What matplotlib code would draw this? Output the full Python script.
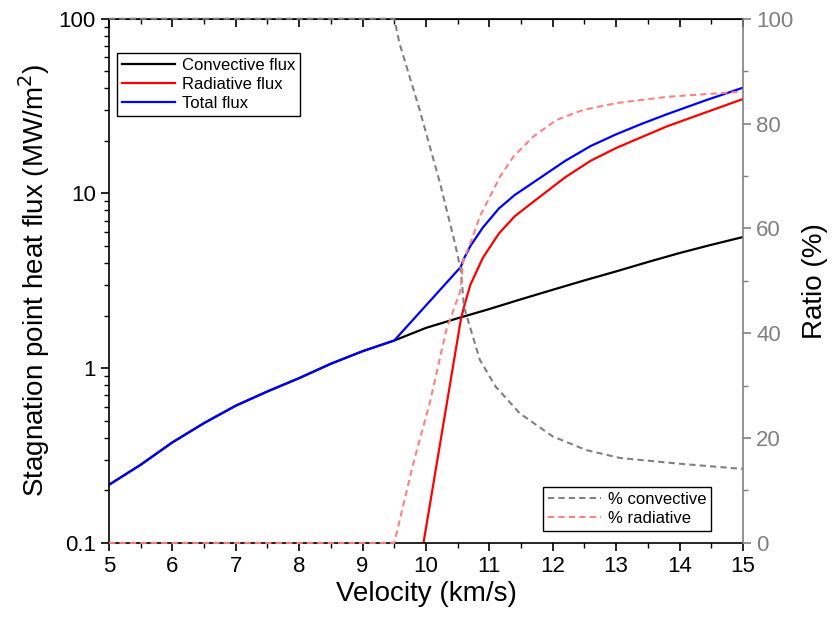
import matplotlib
matplotlib.use("Agg")
import matplotlib.pyplot as plt
from matplotlib.ticker import FixedLocator, MultipleLocator, NullFormatter
import numpy as np

plt.rcParams['font.family'] = ['Liberation Sans', 'DejaVu Sans']

# heat flux (MW/m^2)
v_conv = [5, 5.5, 6, 6.5, 7, 7.5, 8, 8.5, 9, 9.5, 10, 10.5, 11, 11.5, 12,
          12.5, 13, 13.5, 14, 14.5, 15]
q_conv = [0.215, 0.28, 0.376, 0.485, 0.61, 0.736, 0.877, 1.06, 1.25, 1.44,
          1.70, 1.93, 2.18, 2.48, 2.81, 3.18, 3.58, 4.05, 4.56, 5.08, 5.63]

v_rad = [9.5, 10.55, 10.6, 10.7, 10.9, 11.15, 11.4, 11.7, 12.2, 12.6, 13.0,
         13.4, 13.8, 14.4, 15]
q_rad = [0.01, 1.9, 2.25, 3.0, 4.3, 5.9, 7.4, 9.0, 12.4, 15.4, 18.2,
         21.0, 24.2, 29.0, 34.7]

v_tot = [5, 5.5, 6, 6.5, 7, 7.5, 8, 8.5, 9, 9.5, 10.55, 10.6, 10.7, 10.9,
         11.15, 11.4, 11.7, 12.2, 12.6, 13.0, 13.4, 13.8, 14.4, 15]
q_tot = [0.215, 0.28, 0.376, 0.485, 0.61, 0.736, 0.877, 1.06, 1.25, 1.44,
         3.8, 4.25, 5.0, 6.4, 8.2, 9.8, 11.6, 15.4, 18.7, 21.8, 25.0, 28.4,
         34.0, 40.3]

# ratios (%)
v_pconv = [5, 9.5, 9.58, 9.9, 10.22, 10.46, 10.55, 10.6, 10.85, 11.1, 11.48,
           12.0, 12.53, 13.06, 14.0, 15]
p_conv = [100, 100, 95.4, 82.6, 68.7, 57, 52, 45, 34.9, 29.8, 24.7,
          20.3, 17.7, 16.2, 15.1, 14.1]

v_prad = [5, 9.5, 9.8, 10.06, 10.32, 10.54, 10.59, 10.72, 10.85, 11.01,
          11.17, 11.38, 11.69, 12.06, 12.48, 13.0, 13.8, 15]
p_rad = [0, 0, 15.2, 26.7, 40.6, 48, 54, 57.8, 62.3, 66.1,
         69.9, 73.7, 77.5, 80.7, 82.6, 83.9, 85.1, 86.1]

fig = plt.figure(figsize=(8.32, 6.24), dpi=100)
ax = fig.add_axes([0.131, 0.130, 0.762, 0.840])
ax2 = ax.twinx()

l1, = ax.plot(v_conv, q_conv, color='black', lw=1.6, label='Convective flux')
l2, = ax.plot(v_rad, q_rad, color='#ff0000', lw=1.6, label='Radiative flux')
l3, = ax.plot(v_tot, q_tot, color='#0000ff', lw=1.6, label='Total flux')

d1, = ax2.plot(v_pconv, p_conv, color='#808080', lw=1.5, ls=(0, (3, 2)),
               label='% convective', clip_on=False)
d2, = ax2.plot(v_prad, p_rad, color='#ff8080', lw=1.5, ls=(0, (3, 2)),
               label='% radiative', clip_on=False)

ax.set_yscale('log')
ax.set_xlim(5, 15)
ax.set_ylim(0.1, 100)
ax.yaxis.set_major_locator(FixedLocator([0.1, 1, 10, 100]))
ax.set_yticklabels(['0.1', '1', '10', '100'])
minors = [m * 10.0 ** e for e in (-1, 0, 1) for m in range(2, 10)]
ax.yaxis.set_minor_locator(FixedLocator(minors))
ax.yaxis.set_minor_formatter(NullFormatter())
ax.xaxis.set_major_locator(MultipleLocator(1))
ax.xaxis.set_minor_locator(MultipleLocator(0.5))

ax.tick_params(which='major', direction='out', length=6, width=1.2, labelsize=16)
ax.tick_params(which='minor', direction='out', length=3.5, width=1.0)
ax.spines['right'].set_visible(False)
for s in ('left', 'bottom', 'top'):
    ax.spines[s].set_linewidth(1.2)

top = ax.secondary_xaxis('top')
top.xaxis.set_major_locator(MultipleLocator(1))
top.xaxis.set_minor_locator(MultipleLocator(0.5))
top.tick_params(which='major', direction='in', length=6, width=1.2, labeltop=False)
top.tick_params(which='minor', direction='in', length=3.5, width=1.0)

ax2.set_ylim(0, 100)
ax2.yaxis.set_major_locator(MultipleLocator(20))
ax2.yaxis.set_minor_locator(MultipleLocator(10))
ax2.tick_params(which='major', direction='out', length=6, width=1.2,
                colors='#808080', labelsize=16)
ax2.tick_params(which='minor', direction='out', length=3.5, width=1.0,
                colors='#808080')
ax2.spines['right'].set_color('#808080')
ax2.spines['right'].set_linewidth(1.2)
for s in ('left', 'bottom', 'top'):
    ax2.spines[s].set_visible(False)

ax.set_xlabel('Velocity (km/s)', fontsize=20, labelpad=3)
ax.set_ylabel('Stagnation point heat flux (MW/m$^2$)', fontsize=20, labelpad=5)
ax2.set_ylabel('Ratio (%)', fontsize=20, labelpad=6)

leg1 = ax2.legend(handles=[l1, l2, l3], loc='upper left',
                  bbox_to_anchor=(0.012, 0.935), fontsize=12, frameon=True,
                  fancybox=False, edgecolor='black', framealpha=1,
                  handlelength=3.2, handletextpad=0.4, labelspacing=0.25,
                  borderpad=0.3, borderaxespad=0)
leg1.get_frame().set_linewidth(1.0)
ax2.add_artist(leg1)
leg2 = ax2.legend(handles=[d1, d2], loc='lower right',
                  bbox_to_anchor=(0.95, 0.023), fontsize=12, frameon=True,
                  fancybox=False, edgecolor='black', framealpha=1,
                  handlelength=3.2, handletextpad=0.4, labelspacing=0.25,
                  borderpad=0.3, borderaxespad=0)
leg2.get_frame().set_linewidth(1.0)

fig.savefig('out.png', dpi=100)
